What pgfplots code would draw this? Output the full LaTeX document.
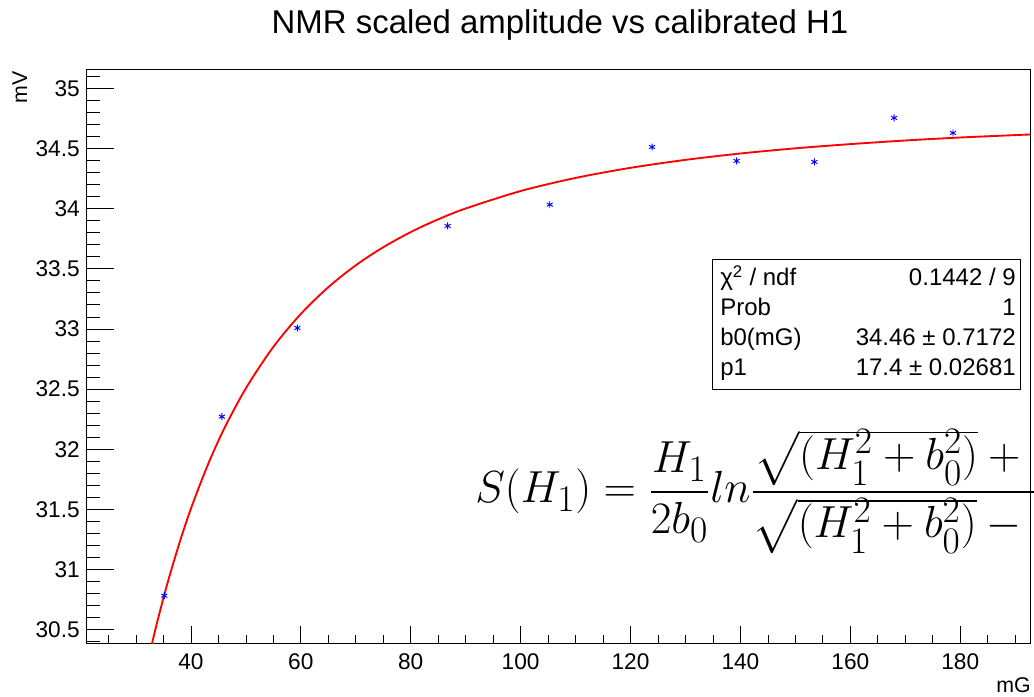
\documentclass[border=0pt]{standalone}
\usepackage{amsmath}
\usepackage{graphicx}
\usepackage{fontspec}
\setmainfont{Liberation Sans}
\usepackage{pgfplots}
\pgfplotsset{compat=1.18}
\begin{document}
\begin{tikzpicture}
\begin{axis}[
  at={(64.5pt,39.75pt)}, anchor=south west,
  scale only axis, width=708pt, height=429.75pt,
  xmin=20.9, xmax=192.7, ymin=30.39, ymax=35.152,
  axis line style={line width=0.75pt, black},
  tick align=inside, tick pos=left,
  xtick={40,60,...,180}, ytick={30.5,31,...,35},
  minor xtick={25,30,...,190},
  minor ytick={30.4,30.5,...,35.1},
  xtick style={/pgfplots/major tick length=12.5pt, /pgfplots/minor tick length=6.25pt, line width=0.6pt, black},
  ytick style={/pgfplots/major tick length=21pt, /pgfplots/minor tick length=10.5pt, line width=0.6pt, black},
  scaled ticks=false,
  /pgf/number format/assume math mode=true,
  ticklabel style={font=\fontsize{17}{20}\selectfont},
  yticklabel style={inner sep=0pt, xshift=-4.5pt},
  xticklabel style={inner sep=0pt, yshift=-7.5pt},
]
\addplot[red, line width=1.4pt, smooth] coordinates {
(32.9,30.384) (33.5,30.498) (34,30.590) (35,30.765) (36,30.931) (38,31.235)
(40,31.507) (43,31.863) (46,32.167) (50,32.507) (55,32.851) (60,33.125)
(65,33.347) (70,33.529) (75,33.679) (80,33.805) (85,33.911) (90,34.001)
(100,34.146) (110,34.255) (120,34.339) (130,34.405) (140,34.458)
(150,34.501) (160,34.536) (170,34.566) (180,34.591) (192.7,34.616)
};
\addplot[only marks, blue, mark=asterisk, mark size=2.6pt, line width=0.7pt] coordinates {
(35.15,30.783) (45.63,32.271) (59.37,33.008) (86.71,33.856) (105.30,34.033)
(123.92,34.512) (139.3,34.396) (153.45,34.388) (167.97,34.754) (178.68,34.629)
};
\end{axis}
% title
\node[anchor=base, inner sep=0pt, font=\fontsize{24.7}{30}\selectfont] at (420pt,496.5pt) {NMR scaled amplitude vs calibrated H1};
% axis titles
\node[anchor=base east, rotate=90, inner sep=0pt, font=\fontsize{16}{19}\selectfont] at (20.25pt,468.75pt) {mV};
\node[anchor=base east, inner sep=0pt, font=\fontsize{16}{19}\selectfont] at (773.25pt,3pt) {mG};
% stats box
\draw[line width=0.75pt, fill=white] (534pt,229.5pt) rectangle (765pt,327pt);
\begin{scope}[every node/.style={inner sep=0pt, font=\fontsize{18}{21}\selectfont}]
\node[anchor=base west] at (540pt,307.5pt) {χ\textsuperscript{2} / ndf};
\node[anchor=base east] at (762pt,307.5pt) {0.1442 / 9};
\node[anchor=base west] at (540pt,285pt) {Prob};
\node[anchor=base east] at (762pt,285pt) {1};
\node[anchor=base west] at (540pt,262.5pt) {b0(mG)};
\node[anchor=base east] at (762pt,262.5pt) {34.46 ± 0.7172};
\node[anchor=base west] at (540pt,240pt) {p1};
\node[anchor=base east] at (762pt,240pt) {17.4 ± 0.02681};
\end{scope}
% formula (clipped at the picture edge)
\begin{scope}
\clip (0pt,0pt) rectangle (775.5pt,522pt);
\node[anchor=base west, inner sep=0pt, font=\fontsize{24.88}{30}\selectfont] at (356.25pt,144.75pt)
 {\scalebox{1.3545}{$\displaystyle S(H_1) = \frac{H_1}{2b_0} ln \frac{\sqrt{(H_1^{\smash{2}}+b_0^{\smash{2}})}+\hspace{1.2em}b_0}{\sqrt{(H_1^{\smash{2}}+b_0^{\smash{2}})}-\hspace{1.2em}b_0}$}};
\end{scope}
\pgfresetboundingbox
\useasboundingbox (0pt,0pt) rectangle (775.5pt,522pt);
\end{tikzpicture}
\end{document}
